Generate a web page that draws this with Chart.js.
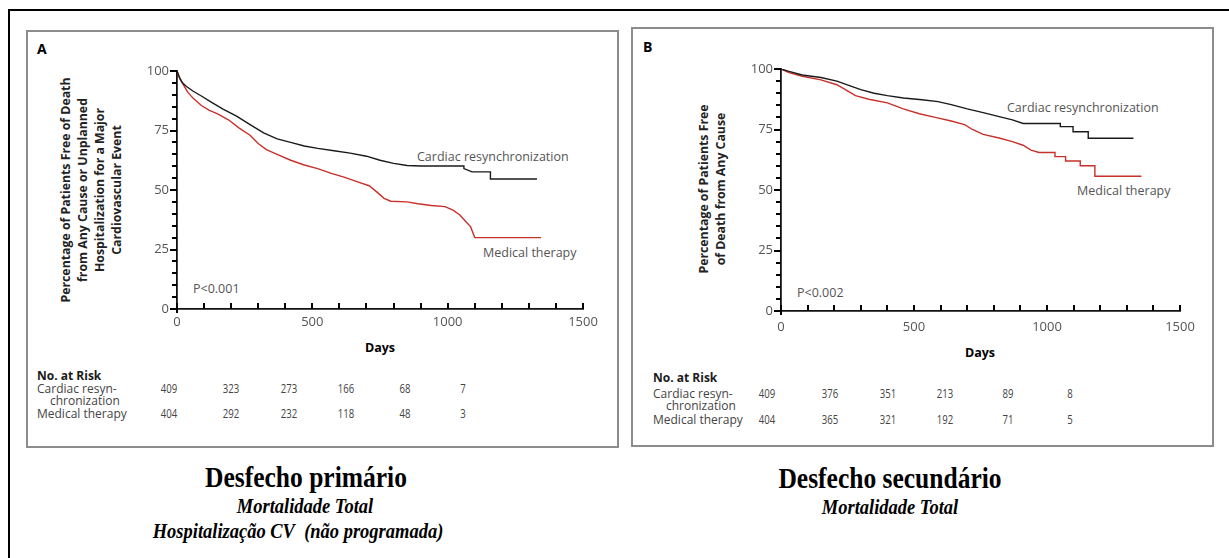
<!DOCTYPE html>
<html>
<head>
<meta charset="utf-8">
<script src="https://cdn.jsdelivr.net/npm/chart.js@4/dist/chart.umd.min.js"></script>
<style>
  body { margin: 0; width: 1229px; height: 558px; overflow: hidden; background: #fff; position: relative; font-family: "Open Sans", sans-serif; }
  .abs { position: absolute; white-space: nowrap; }
  .c { transform: translate(-50%, -50%); }
  .l { transform: translateY(-50%); }
  .frame { position: absolute; box-sizing: border-box; }
  .ylab { position: absolute; transform: translate(-50%, -50%) rotate(-90deg); text-align: center; font-weight: 700; font-size: 12.3px; line-height: 17px; color: #222; white-space: nowrap; }
  .note { font-size: 12.5px; color: #555; }
  .risk { font-size: 12px; color: #444; }
  .num { font-size: 12px; color: #444; transform: translate(-50%, -50%) scaleX(0.8); }
  .big { font-family: "Liberation Serif", serif; font-weight: bold; font-size: 30px; color: #000; transform: translate(-50%, -50%) scaleX(0.85); }
  .sub { font-family: "Liberation Serif", serif; font-weight: bold; font-style: italic; font-size: 21px; color: #000; transform: translate(-50%, -50%) scaleX(0.88); }
  canvas { position: absolute; }
</style>
</head>
<body>
<div class="frame" style="left:8px; top:9px; width:1240px; height:600px; border:2.5px solid #000;"></div>
<div class="frame" style="left:26px; top:30px; width:593px; height:418px; border:2px solid #8c8c8c;"></div>
<div class="frame" style="left:631px; top:27px; width:583px; height:420px; border:2px solid #8c8c8c;"></div>

<div class="abs l" style="left:37px; top:48px; font-weight:bold; font-size:14px;">A</div>
<div class="abs l" style="left:643px; top:46px; font-weight:bold; font-size:14px;">B</div>

<div class="ylab" style="left:91px; top:190px;">Percentage of Patients Free of Death<br>from Any Cause or Unplanned<br>Hospitalization for a Major<br>Cardiovascular Event</div>
<div class="ylab" style="left:712px; top:189px;">Percentage of Patients Free<br>of Death from Any Cause</div>

<div class="abs c" style="left:380px; top:347px; font-weight:bold; font-size:12.5px;">Days</div>
<div class="abs c" style="left:980px; top:352px; font-weight:bold; font-size:12.5px;">Days</div>

<div class="abs l note" style="left:417px; top:156px;">Cardiac resynchronization</div>
<div class="abs l note" style="left:483px; top:252px;">Medical therapy</div>
<div class="abs l note" style="left:193px; top:288px;">P&lt;0.001</div>
<div class="abs l note" style="left:1007px; top:107px;">Cardiac resynchronization</div>
<div class="abs l note" style="left:1077px; top:190px;">Medical therapy</div>
<div class="abs l note" style="left:797px; top:292px;">P&lt;0.002</div>

<canvas id="kmA"></canvas>
<canvas id="kmB"></canvas>

<div id="tables"></div>

<div class="abs big" style="left:306px; top:477px;">Desfecho primário</div>
<div class="abs sub" style="left:305px; top:506px;">Mortalidade Total</div>
<div class="abs sub" style="left:298px; top:531px;">Hospitalização CV&nbsp; (não programada)</div>
<div class="abs big" style="left:890px; top:478px;">Desfecho secundário</div>
<div class="abs sub" style="left:890px; top:507px;">Mortalidade Total</div>

<script>
// x tick labels (days) and y tick labels (%)
const dayTicks = [0, 500, 1000, 1500];
const pctTicks = [0, 25, 50, 75, 100];

// Panel A - primary endpoint
const crtDaysA = [0, 10, 20, 35, 60, 90, 125, 170, 220, 270, 320, 370, 420, 470, 520, 580, 640, 700, 750, 800, 850, 900, 1060, 1060, 1090, 1158, 1158, 1330];
const crtPctA  = [100, 97, 95, 93.5, 91.5, 89.5, 87, 84, 81, 77.5, 74, 71.5, 70, 68.5, 67.5, 66.5, 65.5, 64.2, 62.5, 61.2, 60.3, 60.1, 60.1, 59, 57.6, 57.6, 54.6, 54.6];
const medDaysA = [0, 10, 25, 40, 60, 90, 120, 150, 190, 230, 270, 300, 330, 370, 420, 470, 520, 570, 620, 670, 710, 740, 765, 790, 850, 890, 940, 990, 1020, 1045, 1065, 1085, 1100, 1345];
const medPctA  = [100, 97, 94, 91, 88.5, 85.5, 83.5, 82, 79.5, 76, 73, 69.5, 67, 65, 62.5, 60.5, 59, 57, 55.3, 53.3, 51.8, 49, 46.5, 45.3, 45, 44.2, 43.5, 43, 41.5, 39.5, 37, 34.5, 30, 30];

// Panel B - secondary endpoint
const crtDaysB = [0, 30, 80, 150, 210, 260, 300, 350, 400, 460, 530, 590, 640, 700, 760, 820, 870, 910, 1050, 1050, 1098, 1098, 1155, 1155, 1325];
const crtPctB  = [100, 99, 97.5, 96.5, 95, 93, 91.5, 90, 89, 88, 87.3, 86.5, 85.3, 83.5, 82, 80.3, 79, 77.5, 77.5, 76.2, 76.2, 74.1, 74.1, 71.4, 71.4];
const medDaysB = [0, 30, 80, 150, 210, 250, 280, 330, 400, 460, 520, 580, 640, 690, 720, 760, 820, 870, 910, 940, 970, 1030, 1030, 1070, 1070, 1125, 1125, 1180, 1180, 1355];
const medPctB  = [100, 98.5, 97, 95.5, 93.5, 91, 89, 87.5, 86, 83.5, 81.5, 80, 78.5, 77, 75, 73, 71.5, 70, 68.5, 66.5, 65.5, 65.5, 63.8, 63.8, 62, 62, 60, 60, 55.7, 55.7];

// No. at risk
const riskGroups = ["Cardiac resyn-", "chronization", "Medical therapy"];
const riskCrtA = [409, 323, 273, 166, 68, 7];
const riskMedA = [404, 292, 232, 118, 48, 3];
const riskCrtB = [409, 376, 351, 213, 89, 8];
const riskMedB = [404, 365, 321, 192, 71, 5];

const toXY = (xs, ys) => xs.map((d, i) => ({ x: d, y: ys[i] }));

// tick marks: x ticks point into the plot, y ticks point out
const axisTicks = {
  id: "axisTicks",
  afterDatasetsDraw(chart) {
    const sx = chart.scales.x, sy = chart.scales.y, ctx = chart.ctx;
    const base = sy.getPixelForValue(0);
    const x0 = sx.getPixelForValue(0);
    ctx.save();
    ctx.strokeStyle = "#000";
    ctx.lineWidth = 2;
    ctx.beginPath();
    for (let d = 0; d <= 1500; d += 100) {
      const px = Math.round(sx.getPixelForValue(d));
      ctx.moveTo(px, base);
      ctx.lineTo(px, base - 6);
    }
    for (let v = 0; v <= 100; v += 5) {
      const py = Math.round(sy.getPixelForValue(v));
      ctx.moveTo(x0, py);
      ctx.lineTo(x0 - (v % 25 === 0 ? 7 : 5), py);
    }
    ctx.moveTo(x0, base);
    ctx.lineTo(x0, base + 4);
    ctx.stroke();
    ctx.restore();
  },
};

const makeKM = (id, box, crt, med, yWidth, xHeight, xPad) => {
  const el = document.getElementById(id);
  el.style.left = box.left + "px";
  el.style.top = box.top + "px";
  el.style.width = box.width + "px";
  el.style.height = box.height + "px";
  return new Chart(el.getContext("2d"), {
    type: "line",
    data: {
      datasets: [
        { label: "Cardiac resynchronization", data: crt, borderColor: "#1a1a1a", borderWidth: 1.4, pointRadius: 0, tension: 0 },
        { label: "Medical therapy", data: med, borderColor: "#c8302a", borderWidth: 1.4, pointRadius: 0, tension: 0 },
      ],
    },
    options: {
      responsive: false,
      animation: false,
      devicePixelRatio: 1,
      layout: { padding: box.padding },
      plugins: { legend: { display: false }, tooltip: { enabled: false } },
      scales: {
        x: {
          type: "linear",
          min: 0,
          max: 1500,
          afterBuildTicks: (s) => { s.ticks = dayTicks.map((v) => ({ value: v })); },
          afterFit: (s) => { s.height = xHeight; },
          grid: { display: false, drawTicks: false },
          border: { display: true, color: "#111", width: 1.8 },
          ticks: { padding: xPad, color: "#555", font: { family: "Open Sans", size: 13 }, maxRotation: 0, autoSkip: false, callback: (v) => String(v) },
        },
        y: {
          min: 0,
          max: 100,
          afterBuildTicks: (s) => { s.ticks = pctTicks.map((v) => ({ value: v })); },
          ticks: { padding: 8, color: "#555", font: { family: "Open Sans", size: 13 }, autoSkip: false, callback: (v) => String(v) },
          afterFit: (s) => { s.width = yWidth; },
          grid: { display: false, drawTicks: false },
          border: { display: true, color: "#111", width: 1.8 },
        },
      },
    },
    plugins: [axisTicks],
  });
};

makeKM("kmA", { left: 120, top: 51, width: 500, height: 320, padding: { left: 0, top: 20, right: 37, bottom: 0 } },
  toXY(crtDaysA, crtPctA), toXY(medDaysA, medPctA), 57, 62, 5);
makeKM("kmB", { left: 720, top: 49, width: 500, height: 322, padding: { left: 0, top: 20, right: 40, bottom: 0 } },
  toXY(crtDaysB, crtPctB), toXY(medDaysB, medPctB), 61, 60, 8);

// No. at Risk tables
const tables = document.getElementById("tables");
const addText = (cls, x, y, txt, extra) => {
  const d = document.createElement("div");
  d.className = "abs " + cls;
  d.style.left = x + "px";
  d.style.top = y + "px";
  if (extra) d.style.cssText += extra;
  d.textContent = txt;
  tables.appendChild(d);
};
const drawRisk = (left, rows, cols, crt, med) => {
  addText("l", left, rows[0], "No. at Risk", "font-weight:bold;font-size:12px;color:#1a1a1a;");
  addText("l risk", left, rows[1], riskGroups[0]);
  addText("l risk", left + 13, rows[2], riskGroups[1]);
  addText("l risk", left, rows[3], riskGroups[2]);
  cols.forEach((cx, i) => {
    addText("num", cx, rows[1], String(crt[i]));
    addText("num", cx, rows[3], String(med[i]));
  });
};
drawRisk(37, [375, 388, 400, 413], [169, 231, 289, 346, 405, 463], riskCrtA, riskMedA);
drawRisk(653, [377, 393, 405, 419], [767, 830, 888, 945, 1008, 1070], riskCrtB, riskMedB);
</script>
</body>
</html>
